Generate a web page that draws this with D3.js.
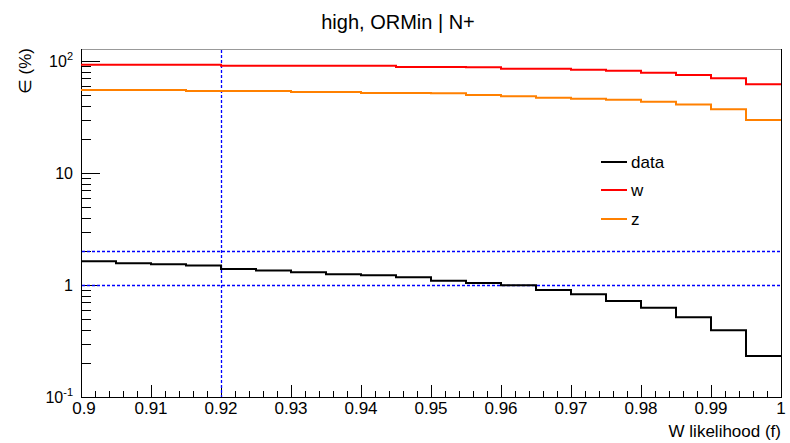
<!DOCTYPE html>
<html>
<head>
<meta charset="utf-8">
<script src="https://cdnjs.cloudflare.com/ajax/libs/d3/7.8.5/d3.min.js"></script>
<style>
  body { margin: 0; background: #fff; }
  text { font-family: "Liberation Sans", Arial, sans-serif; fill: #000; }
  line.guide { stroke: #0000ff; stroke-width: 1.3px; stroke-dasharray: 3 2; }
</style>
</head>
<body>
<div id="chart"></div>
<script>
/*
 * efficiency vs W likelihood cut, log scale
 */

var width = 790;
var height = 443;

// bin low edges, 20 bins of 0.005
var binEdges = d3.range(20).map(i => 0.9 + i * 0.005);
var binWidth = 0.005;

var dataEff = [1.63, 1.56, 1.53, 1.49, 1.39, 1.35, 1.30, 1.25, 1.22, 1.17,
  1.09, 1.04, 0.994, 0.902, 0.826, 0.720, 0.627, 0.515, 0.394, 0.232];
var wEff = [92.7, 92.7, 92.7, 92.7, 90.8, 90.8, 90.8, 90.8, 90.8, 88.4,
  88.2, 88.0, 85.4, 85.4, 83.6, 81.8, 78.5, 74.9, 70.0, 61.9];
var zEff = [55.1, 55.1, 55.1, 54.0, 54.0, 54.0, 52.9, 52.9, 51.8, 51.7,
  51.5, 49.7, 48.4, 47.0, 46.1, 45.1, 43.3, 41.0, 37.0, 29.7];

var seriesNames = ['data', 'w', 'z'];
var seriesColors = ['#000000', '#ff0000', '#ff8000'];

var xTicks = d3.range(11).map(i => 0.9 + i * 0.01);
var yDecades = [0.1, 1, 10, 100];

// dashed guides
var cutX = 0.92;
var cutY = [1, 2];

var svg = d3.select('#chart')
  .append('svg')
  .attr('width', width)
  .attr('height', height)

var x = d3.scaleLinear().domain([0.9, 1]).range([81, 781]);
var y = d3.scaleLog().domain([0.1, 128]).range([397, 49]);

// frame
svg.append('line').attr('x1', 81).attr('x2', 781).attr('y1', 49.5).attr('y2', 49.5)
  .attr('stroke', '#999').attr('stroke-width', 1)
svg.append('line').attr('x1', 781.5).attr('x2', 781.5).attr('y1', 49).attr('y2', 397)
  .attr('stroke', '#000').attr('stroke-width', 1)

// x axis ticks (major 0.01, minor 0.002)
var gx = svg.append('g')
gx.selectAll('line.minor')
  .data(d3.range(51).map(i => 0.9 + i * 0.002))
  .enter()
  .append('line')
  .attr('x1', d => Math.round(x(d)) + 0.5)
  .attr('x2', d => Math.round(x(d)) + 0.5)
  .attr('y1', 397)
  .attr('y2', (d, i) => i % 5 === 0 ? 385 : 391)
  .attr('stroke', '#000')
gx.append('line').attr('x1', 81).attr('x2', 782).attr('y1', 397.5).attr('y2', 397.5)
  .attr('stroke', '#000')
gx.selectAll('text')
  .data(xTicks)
  .enter()
  .append('text')
  .attr('x', (d, i) => x(d) + (i === 0 ? 3 : 0))
  .attr('y', 414)
  .attr('text-anchor', 'middle')
  .style('font-size', '17px')
  .text(d => d3.format('.2~f')(d))

// y axis ticks (log: major per decade, minor 2..9)
var yMinor = [];
yDecades.forEach(dec => {
  d3.range(1, 10).forEach(m => {
    var v = dec * m;
    if (v >= 0.1 && v <= 128) yMinor.push({ v: v, major: m === 1 });
  })
})
var gy = svg.append('g')
gy.selectAll('line')
  .data(yMinor)
  .enter()
  .append('line')
  .attr('x1', 81)
  .attr('x2', d => d.major ? 100 : 91)
  .attr('y1', d => Math.round(y(d.v)) + 0.5)
  .attr('y2', d => Math.round(y(d.v)) + 0.5)
  .attr('stroke', '#000')
gy.append('line').attr('x1', 81.5).attr('x2', 81.5).attr('y1', 49).attr('y2', 398)
  .attr('stroke', '#000')

var yLabels = gy.selectAll('text')
  .data(yDecades)
  .enter()
  .append('text')
  .attr('x', 73)
  .attr('y', d => y(d) + 6)
  .attr('text-anchor', 'end')
  .style('font-size', '16px')
yLabels.each(function (d) {
  var t = d3.select(this)
  var e = Math.round(Math.log10(d))
  if (e === 0) { t.text('1'); return; }
  if (e === 1) { t.text('10'); return; }
  t.append('tspan').text('10')
  t.append('tspan').attr('dy', -7).style('font-size', '11px').text(e)
})

// dashed guides
svg.append('line')
  .attr('class', 'guide')
  .attr('x1', Math.round(x(cutX)) + 0.5).attr('x2', Math.round(x(cutX)) + 0.5)
  .attr('y1', 50).attr('y2', 397)
svg.selectAll('line.hguide')
  .data(cutY)
  .enter()
  .append('line')
  .attr('class', 'guide hguide')
  .attr('x1', 82).attr('x2', 781)
  .attr('y1', d => Math.round(y(d)) + 0.5)
  .attr('y2', d => Math.round(y(d)) + 0.5)

// step histograms
var stepLine = d3.line()
  .x(d => x(d[0]))
  .y(d => y(d[1]))
  .curve(d3.curveStepAfter)

function toSteps(values) {
  var pts = values.map((v, i) => [binEdges[i], v]);
  pts.push([binEdges[binEdges.length - 1] + binWidth, values[values.length - 1]]);
  return pts;
}

var allSeries = [dataEff, wEff, zEff];
svg.selectAll('path.hist')
  .data(allSeries)
  .enter()
  .append('path')
  .attr('class', 'hist')
  .attr('d', d => stepLine(toSteps(d)))
  .attr('fill', 'none')
  .attr('stroke', (d, i) => seriesColors[i])
  .attr('stroke-width', 2)

// legend
var legend = svg.append('g')
var legendY = [162, 190, 219];
legend.selectAll('line')
  .data(seriesNames)
  .enter()
  .append('line')
  .attr('x1', 601).attr('x2', 627)
  .attr('y1', (d, i) => legendY[i]).attr('y2', (d, i) => legendY[i])
  .attr('stroke', (d, i) => seriesColors[i])
  .attr('stroke-width', 2)
legend.selectAll('text')
  .data(seriesNames)
  .enter()
  .append('text')
  .attr('x', 631)
  .attr('y', (d, i) => legendY[i] + 6)
  .style('font-size', '17px')
  .text(d => d)

// titles
svg.append('text')
  .attr('x', 398).attr('y', 29)
  .attr('text-anchor', 'middle')
  .style('font-size', '20px')
  .text('high, ORMin | N+')

svg.append('text')
  .attr('x', 781).attr('y', 437)
  .attr('text-anchor', 'end')
  .style('font-size', '17px')
  .text('W likelihood (f)')

svg.append('text')
  .attr('transform', 'translate(31, 48) rotate(-90)')
  .attr('text-anchor', 'end')
  .style('font-size', '17px')
  .text('∈ (%)')
</script>
</body>
</html>
